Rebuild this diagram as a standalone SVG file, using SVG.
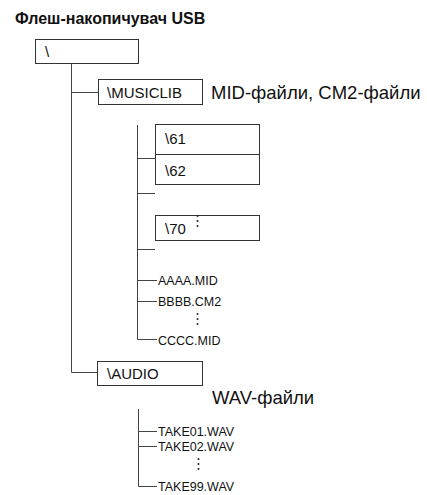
<svg xmlns="http://www.w3.org/2000/svg" width="427" height="495" viewBox="0 0 427 495">
<style>
.bx{fill:#fff;stroke:#333;stroke-width:1}
.ln{fill:none;stroke:#444;stroke-width:1}
.t{font-family:"Liberation Sans",Arial,sans-serif;font-size:15px;fill:#111}
.f{font-family:"Liberation Sans",Arial,sans-serif;font-size:12.5px;fill:#111}
.big{font-family:"Liberation Sans",Arial,sans-serif;font-size:18.5px;fill:#111}
.title{font-family:"Liberation Sans",Arial,sans-serif;font-size:16px;font-weight:bold;fill:#111}
.dot{fill:#222}
</style>
<rect width="427" height="495" fill="#fff"/>
<text class="title" x="15" y="24">Флеш-накопичувач USB</text>
<g id="connectors">
<path class="ln" d="M71.5 63V372.5H97"/>
<path class="ln" d="M71.5 92.5H98"/>
<path class="ln" d="M137.5 125V339.5H157"/>
<path class="ln" d="M137.5 158.5H155"/>
<path class="ln" d="M137.5 193.5H155"/>
<path class="ln" d="M137.5 249.5H155"/>
<path class="ln" d="M137.5 280.5H157"/>
<path class="ln" d="M137.5 301.5H157"/>
<path class="ln" d="M138.5 409V486.5H157"/>
<path class="ln" d="M138.5 431.5H157"/>
<path class="ln" d="M138.5 446.5H157"/>
</g>
<g id="root"><rect class="bx" x="35.5" y="39.5" width="103" height="24"/><text class="t" x="45" y="57">\</text></g>
<g id="musiclib"><rect class="bx" x="98.5" y="79.5" width="104" height="25"/><text class="t" x="107" y="98">\MUSICLIB</text></g>
<g id="musiclib-label"><text class="big" x="211" y="99">MID-файли, CM2-файли</text></g>
<g id="dir61"><rect class="bx" x="155.5" y="124.5" width="104" height="30"/><text class="t" x="165" y="144">\61</text></g>
<g id="dir62"><rect class="bx" x="155.5" y="154.5" width="104" height="30"/><text class="t" x="165" y="176">\62</text></g>
<g id="dir70"><rect class="bx" x="155.5" y="215.5" width="104" height="25"/><text class="t" x="165" y="234">\70</text>
<circle class="dot" cx="197.5" cy="216" r="1"/><circle class="dot" cx="197.5" cy="221" r="1"/><circle class="dot" cx="197.5" cy="226" r="1"/></g>
<g id="aaaa"><text class="f" x="158" y="285">AAAA.MID</text></g>
<g id="bbbb"><text class="f" x="158" y="306">BBBB.CM2</text>
<circle class="dot" cx="197.5" cy="314" r="1"/><circle class="dot" cx="197.5" cy="319" r="1"/><circle class="dot" cx="197.5" cy="324" r="1"/></g>
<g id="cccc"><text class="f" x="158" y="345">CCCC.MID</text></g>
<g id="audio"><rect class="bx" x="97.5" y="361.5" width="105" height="24"/><text class="t" x="107" y="379">\AUDIO</text></g>
<g id="audio-label"><text class="big" x="212" y="404">WAV-файли</text></g>
<g id="take01"><text class="f" x="158" y="436">TAKE01.WAV</text></g>
<g id="take02"><text class="f" x="158" y="451">TAKE02.WAV</text>
<circle class="dot" cx="198.5" cy="459" r="1"/><circle class="dot" cx="198.5" cy="464" r="1"/><circle class="dot" cx="198.5" cy="469" r="1"/></g>
<g id="take99"><text class="f" x="158" y="491">TAKE99.WAV</text></g>
</svg>
